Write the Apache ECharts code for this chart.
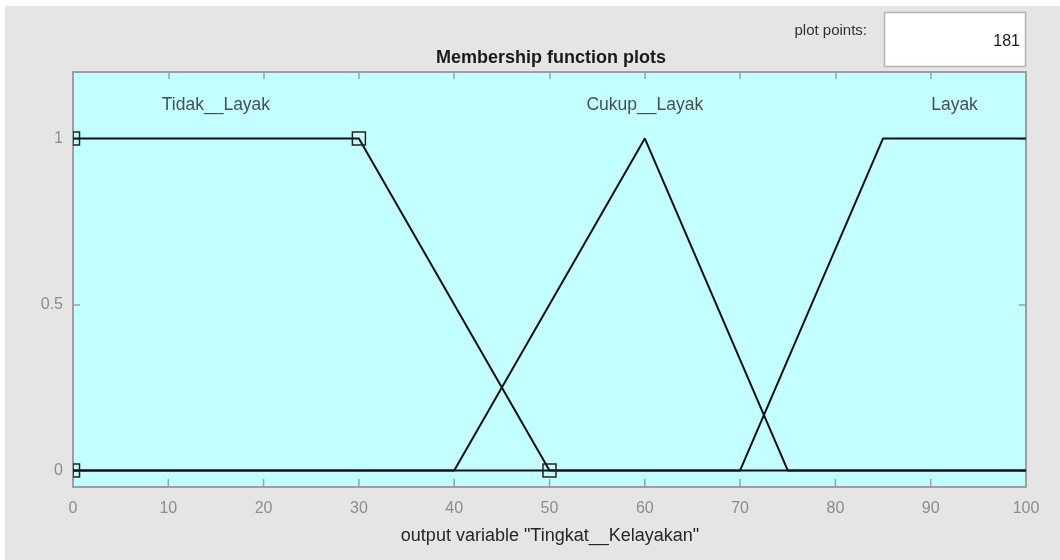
<!DOCTYPE html>
<html>
<head>
<meta charset="utf-8">
<script src="https://cdn.jsdelivr.net/npm/echarts@6/dist/echarts.min.js"></script>
<style>
  html, body { margin: 0; padding: 0; background: #ffffff; }
  #chart { width: 1060px; height: 560px; }
</style>
</head>
<body>
<div id="chart"></div>
<script>
// Output variable universe and membership functions
var xRange = [0, 100];
var xTicks = [0, 10, 20, 30, 40, 50, 60, 70, 80, 90, 100];
var yTicks = [0, 0.5, 1];
var yRange = [-0.05, 1.2];

var mfNames  = ['Tidak__Layak', 'Cukup__Layak', 'Layak'];
var mfTypes  = ['trapmf', 'trimf', 'trapmf'];
var mfParams = [
  [0, 0, 30, 50],
  [40, 60, 75],
  [70, 85, 100, 100]
];
var selectedMf = 0;     // membership function whose vertices are marked
var labelLevel = 1.1;   // height of the membership function names
var plotPoints = 181;
var varTitle = 'output variable "Tingkat__Kelayakan"';

function trapmf(x, p) {
  var a = p[0], b = p[1], c = p[2], d = p[3];
  var up = (x < a) ? 0 : (x >= b ? 1 : (x - a) / (b - a));
  var down = (x > d) ? 0 : (x <= c ? 1 : (d - x) / (d - c));
  return Math.max(0, Math.min(up, down));
}
function trimf(x, p) {
  return trapmf(x, [p[0], p[1], p[1], p[2]]);
}
function evalMf(type, p, x) {
  return type === 'trimf' ? trimf(x, p) : trapmf(x, p);
}
// Polyline through the breakpoints of a membership function over the range
function mfCurve(type, p) {
  var xs = [xRange[0], xRange[1]].concat(p)
    .filter(function (v) { return v >= xRange[0] && v <= xRange[1]; })
    .sort(function (a, b) { return a - b; })
    .filter(function (v, i, arr) { return i === 0 || v !== arr[i - 1]; });
  return xs.map(function (x) { return [x, evalMf(type, p, x)]; });
}
// Vertex handles (a,0) (b,1) (c,1) (d,0)
function mfVertices(type, p) {
  if (type === 'trimf') return [[p[0], 0], [p[1], 1], [p[2], 0]];
  return [[p[0], 0], [p[1], 1], [p[2], 1], [p[3], 0]];
}
// Where the name is written: centre of the top of the function
function mfLabelX(type, p) {
  return type === 'trimf' ? p[1] : (p[1] + p[2]) / 2;
}

var FONT = '"Liberation Sans", Arial, Helvetica, sans-serif';
var frameColor = '#9e9e9e';
var chart = echarts.init(document.getElementById('chart'), null, { renderer: 'canvas' });

var series = mfNames.map(function (name, i) {
  return {
    name: name,
    type: 'line',
    data: mfCurve(mfTypes[i], mfParams[i]),
    symbol: 'none',
    clip: true,
    lineStyle: { color: '#111111', width: 2 },
    z: 3
  };
});

series.push({
  name: 'vertices',
  type: 'custom',
  data: mfVertices(mfTypes[selectedMf], mfParams[selectedMf]),
  clip: true,
  z: 4,
  renderItem: function (params, api) {
    var p = api.coord([api.value(0), api.value(1)]);
    var s = 13;
    var cs = params.coordSys;
    var shape = echarts.graphic.clipRectByRect(
      { x: p[0] - s / 2, y: p[1] - s / 2, width: s, height: s },
      { x: cs.x, y: cs.y, width: cs.width, height: cs.height }
    );
    return shape && {
      type: 'rect',
      shape: shape,
      style: { fill: 'none', stroke: '#222222', lineWidth: 1.5 }
    };
  }
});

// Inward tick marks along the lower frame edge
series.push({
  name: 'bottomTicks',
  type: 'custom',
  data: xTicks.slice(1, -1).map(function (v) { return [v, yRange[0]]; }),
  silent: true,
  clip: false,
  z: 6,
  renderItem: function (params, api) {
    var p = api.coord([api.value(0), api.value(1)]);
    return {
      type: 'line',
      shape: { x1: p[0], y1: p[1], x2: p[0], y2: p[1] - 8 },
      style: { stroke: frameColor, lineWidth: 1.5 }
    };
  }
});

series.push({
  name: 'names',
  type: 'scatter',
  symbolSize: 0,
  data: mfNames.map(function (name, i) {
    return { value: [mfLabelX(mfTypes[i], mfParams[i]), labelLevel], name: name };
  }),
  label: {
    show: true,
    position: 'inside',
    formatter: '{b}',
    color: '#262626',
    fontSize: 17.5,
    fontFamily: FONT
  },
  silent: true,
  z: 5
});

var tickLabelStyle = { color: '#8c8c8c', fontSize: 16, fontFamily: FONT };
var axisLineStyle = { show: true, onZero: false, lineStyle: { color: frameColor, width: 2 } };
var tickLine = { color: frameColor, width: 1.5 };

chart.setOption({
  animation: false,
  backgroundColor: '#ffffff',
  graphic: [
    { type: 'rect', z: -10, shape: { x: 5, y: 6, width: 1060, height: 560 }, style: { fill: '#e5e5e5' } },
    { type: 'text', x: 551, y: 58, style: { text: 'Membership function plots', align: 'center', verticalAlign: 'middle', fill: '#1a1a1a', font: 'bold 18px ' + FONT } },
    { type: 'text', x: 550, y: 536, style: { text: varTitle, align: 'center', verticalAlign: 'middle', fill: '#262626', font: '18px ' + FONT } },
    { type: 'text', x: 867, y: 31, style: { text: 'plot points:', align: 'right', verticalAlign: 'middle', fill: '#333333', font: '15px ' + FONT } },
    { type: 'rect', shape: { x: 884.5, y: 12.5, width: 141, height: 54 }, style: { fill: '#ffffff', stroke: '#b4b4b4', lineWidth: 1.5 } },
    { type: 'text', x: 1020, y: 42, style: { text: String(plotPoints), align: 'right', verticalAlign: 'middle', fill: '#1a1a1a', font: '16px ' + FONT } }
  ],
  grid: {
    left: 73, right: 34, top: 72, bottom: 73,
    show: true,
    backgroundColor: '#c4ffff',
    borderColor: frameColor,
    borderWidth: 2
  },
  xAxis: [
    {
      type: 'value', position: 'bottom',
      min: xRange[0], max: xRange[1], interval: xTicks[1] - xTicks[0],
      axisLine: axisLineStyle,
      axisTick: { show: false },
      axisLabel: { show: true, margin: 14, formatter: function (v) { return String(v); }, ...tickLabelStyle },
      splitLine: { show: false }
    },
    {
      type: 'value', position: 'top',
      min: xRange[0], max: xRange[1], interval: xTicks[1] - xTicks[0],
      axisLine: axisLineStyle,
      axisTick: { show: true, inside: true, length: 7, lineStyle: tickLine },
      axisLabel: { show: false },
      splitLine: { show: false }
    }
  ],
  yAxis: [
    {
      type: 'value', position: 'left',
      min: yRange[0], max: yRange[1],
      axisLine: axisLineStyle,
      axisTick: { show: true, inside: true, length: 7, customValues: yTicks, lineStyle: tickLine },
      axisLabel: { show: true, margin: 10, customValues: yTicks, formatter: function (v) { return String(v); }, ...tickLabelStyle },
      splitLine: { show: false }
    },
    {
      type: 'value', position: 'right',
      min: yRange[0], max: yRange[1],
      axisLine: axisLineStyle,
      axisTick: { show: true, inside: true, length: 7, customValues: yTicks, lineStyle: tickLine },
      axisLabel: { show: false },
      splitLine: { show: false }
    }
  ],
  series: series
});
</script>
</body>
</html>
